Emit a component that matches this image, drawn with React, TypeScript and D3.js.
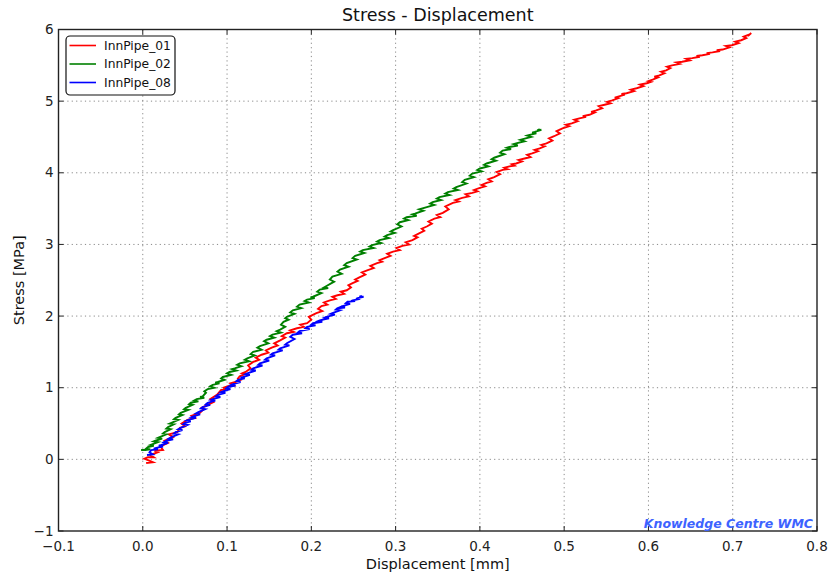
import React from "react";
import * as d3 from "d3";

// Measured stress–displacement records, [displacement mm, stress MPa]
const innPipe01: [number, number][] = [
  [0.004,-0.05],[0.012,-0.04],[0.002,0.01],[0.006,0.03],[0.013,0.03],[0.009,0.06],[0.018,0.10],[0.014,0.12],[0.024,0.13],[0.021,0.18],
  [0.030,0.23],[0.026,0.26],[0.036,0.31],[0.031,0.35],[0.041,0.38],[0.044,0.44],[0.050,0.46],[0.046,0.50],[0.053,0.55],[0.062,0.58],
  [0.058,0.61],[0.068,0.65],[0.072,0.70],[0.070,0.72],[0.077,0.76],[0.084,0.80],[0.080,0.84],[0.088,0.90],[0.093,0.97],[0.098,0.97],
  [0.096,1.00],[0.101,1.02],[0.108,1.03],[0.104,1.06],[0.110,1.08],[0.116,1.11],[0.113,1.13],[0.115,1.16],[0.121,1.19],[0.118,1.20],
  [0.122,1.22],[0.128,1.27],[0.125,1.31],[0.131,1.36],[0.138,1.39],[0.134,1.42],[0.141,1.46],[0.149,1.49],[0.146,1.52],[0.153,1.56],
  [0.160,1.59],[0.156,1.62],[0.163,1.66],[0.169,1.70],[0.165,1.72],[0.171,1.76],[0.179,1.78],[0.175,1.80],[0.183,1.83],[0.191,1.85],
  [0.187,1.88],[0.195,1.90],[0.200,1.95],[0.197,1.99],[0.206,2.04],[0.213,2.07],[0.208,2.10],[0.212,2.14],[0.219,2.16],[0.215,2.19],
  [0.222,2.22],[0.229,2.24],[0.225,2.27],[0.231,2.29],[0.239,2.31],[0.235,2.34],[0.242,2.36],[0.247,2.40],[0.244,2.43],[0.249,2.46],
  [0.255,2.49],[0.252,2.51],[0.257,2.54],[0.264,2.58],[0.260,2.61],[0.267,2.64],[0.274,2.67],[0.270,2.70],[0.278,2.74],[0.284,2.76],
  [0.281,2.78],[0.287,2.81],[0.294,2.84],[0.290,2.87],[0.297,2.90],[0.305,2.92],[0.301,2.95],[0.308,2.98],[0.316,3.00],[0.312,3.03],
  [0.320,3.06],[0.326,3.10],[0.322,3.12],[0.329,3.16],[0.334,3.19],[0.331,3.22],[0.337,3.25],[0.343,3.29],[0.339,3.32],[0.346,3.36],
  [0.353,3.38],[0.349,3.41],[0.356,3.44],[0.363,3.49],[0.359,3.53],[0.368,3.58],[0.375,3.60],[0.371,3.62],[0.379,3.65],[0.387,3.67],
  [0.383,3.70],[0.391,3.72],[0.397,3.74],[0.393,3.76],[0.400,3.79],[0.406,3.81],[0.402,3.83],[0.408,3.86],[0.414,3.88],[0.410,3.91],
  [0.417,3.94],[0.424,3.98],[0.420,4.01],[0.427,4.04],[0.433,4.05],[0.429,4.07],[0.435,4.09],[0.441,4.10],[0.438,4.12],[0.443,4.13],
  [0.450,4.16],[0.446,4.18],[0.453,4.20],[0.460,4.22],[0.456,4.25],[0.462,4.27],[0.469,4.30],[0.465,4.32],[0.471,4.34],[0.477,4.37],
  [0.473,4.39],[0.479,4.41],[0.486,4.45],[0.482,4.48],[0.488,4.51],[0.495,4.55],[0.491,4.58],[0.498,4.62],[0.506,4.65],[0.502,4.67],
  [0.509,4.69],[0.516,4.72],[0.512,4.74],[0.518,4.76],[0.526,4.78],[0.522,4.79],[0.530,4.81],[0.536,4.84],[0.532,4.85],[0.538,4.87],
  [0.545,4.90],[0.541,4.93],[0.548,4.95],[0.555,4.97],[0.551,4.99],[0.557,5.01],[0.564,5.04],[0.560,5.05],[0.566,5.07],[0.572,5.09],
  [0.568,5.10],[0.574,5.11],[0.583,5.14],[0.579,5.16],[0.586,5.18],[0.594,5.21],[0.590,5.23],[0.598,5.25],[0.603,5.27],[0.600,5.28],
  [0.605,5.30],[0.611,5.33],[0.607,5.34],[0.613,5.36],[0.619,5.39],[0.615,5.41],[0.621,5.43],[0.626,5.46],[0.622,5.48],[0.628,5.50],
  [0.637,5.52],[0.633,5.54],[0.640,5.55],[0.649,5.57],[0.645,5.59],[0.652,5.60],[0.661,5.62],[0.657,5.63],[0.664,5.64],[0.673,5.66],
  [0.669,5.67],[0.676,5.68],[0.685,5.70],[0.681,5.71],[0.688,5.72],[0.696,5.75],[0.692,5.77],[0.699,5.78],[0.707,5.81],[0.703,5.83],
  [0.710,5.85],[0.716,5.88],[0.713,5.90],[0.720,5.93],[0.718,5.91],[0.722,5.95],
];

const innPipe02: [number, number][] = [
  [-0.002,0.13],[0.003,0.13],[0.009,0.14],[0.004,0.15],[0.006,0.17],[0.013,0.19],[0.009,0.20],[0.011,0.21],[0.018,0.24],[0.013,0.25],
  [0.015,0.26],[0.023,0.29],[0.018,0.30],[0.020,0.31],[0.028,0.35],[0.024,0.36],[0.026,0.38],[0.033,0.42],[0.028,0.43],[0.030,0.45],
  [0.037,0.49],[0.032,0.50],[0.034,0.51],[0.042,0.55],[0.037,0.56],[0.039,0.58],[0.047,0.62],[0.043,0.63],[0.045,0.65],[0.054,0.69],
  [0.049,0.70],[0.051,0.72],[0.059,0.76],[0.055,0.77],[0.057,0.79],[0.066,0.81],[0.061,0.82],[0.064,0.84],[0.073,0.86],[0.068,0.87],
  [0.071,0.88],[0.075,0.93],[0.073,0.95],[0.077,0.98],[0.085,1.00],[0.080,1.02],[0.083,1.04],[0.091,1.06],[0.086,1.07],[0.089,1.08],
  [0.097,1.11],[0.093,1.13],[0.095,1.15],[0.105,1.18],[0.100,1.20],[0.103,1.22],[0.111,1.24],[0.106,1.26],[0.109,1.27],[0.117,1.30],
  [0.112,1.32],[0.115,1.34],[0.126,1.37],[0.121,1.39],[0.124,1.41],[0.133,1.45],[0.128,1.47],[0.131,1.50],[0.141,1.53],[0.136,1.56],
  [0.139,1.58],[0.149,1.62],[0.144,1.65],[0.147,1.67],[0.156,1.70],[0.151,1.72],[0.154,1.74],[0.164,1.77],[0.159,1.79],[0.163,1.81],
  [0.169,1.85],[0.164,1.88],[0.167,1.92],[0.173,1.95],[0.169,1.97],[0.171,1.99],[0.180,2.03],[0.175,2.05],[0.178,2.08],[0.188,2.11],
  [0.183,2.13],[0.186,2.16],[0.197,2.19],[0.192,2.21],[0.195,2.23],[0.204,2.25],[0.199,2.26],[0.202,2.27],[0.212,2.32],[0.207,2.34],
  [0.210,2.37],[0.220,2.39],[0.215,2.40],[0.218,2.42],[0.227,2.48],[0.222,2.51],[0.225,2.55],[0.236,2.59],[0.231,2.62],[0.234,2.65],
  [0.244,2.69],[0.239,2.71],[0.242,2.74],[0.254,2.79],[0.249,2.81],[0.252,2.84],[0.263,2.88],[0.258,2.90],[0.261,2.92],[0.274,2.95],
  [0.269,2.97],[0.272,2.99],[0.283,3.02],[0.278,3.04],[0.281,3.06],[0.292,3.09],[0.287,3.11],[0.290,3.13],[0.299,3.16],[0.294,3.18],
  [0.297,3.20],[0.307,3.25],[0.302,3.28],[0.305,3.31],[0.315,3.34],[0.310,3.36],[0.313,3.38],[0.325,3.40],[0.320,3.42],[0.323,3.43],
  [0.333,3.47],[0.328,3.49],[0.337,3.52],[0.346,3.55],[0.341,3.57],[0.344,3.59],[0.354,3.62],[0.349,3.64],[0.352,3.66],[0.364,3.69],
  [0.359,3.71],[0.362,3.73],[0.374,3.76],[0.369,3.78],[0.372,3.80],[0.384,3.85],[0.379,3.87],[0.382,3.90],[0.393,3.94],[0.388,3.96],
  [0.391,3.99],[0.402,4.02],[0.397,4.04],[0.400,4.06],[0.410,4.09],[0.405,4.11],[0.408,4.13],[0.419,4.17],[0.414,4.19],[0.417,4.21],
  [0.429,4.26],[0.424,4.28],[0.427,4.31],[0.437,4.33],[0.432,4.35],[0.435,4.36],[0.445,4.38],[0.440,4.40],[0.443,4.41],[0.453,4.44],
  [0.448,4.46],[0.451,4.47],[0.461,4.50],[0.456,4.52],[0.459,4.53],[0.467,4.55],[0.462,4.56],[0.465,4.57],[0.473,4.60],[0.468,4.59],
  [0.471,4.61],
];

const innPipe08: [number, number][] = [
  [0.005,0.06],[0.012,0.07],[0.008,0.10],[0.010,0.13],[0.018,0.14],[0.013,0.15],[0.016,0.16],[0.024,0.18],[0.019,0.19],[0.022,0.20],
  [0.030,0.23],[0.025,0.24],[0.028,0.26],[0.036,0.28],[0.031,0.29],[0.034,0.31],[0.042,0.35],[0.037,0.36],[0.039,0.38],[0.047,0.41],
  [0.042,0.42],[0.045,0.44],[0.053,0.48],[0.048,0.49],[0.050,0.51],[0.057,0.53],[0.052,0.54],[0.054,0.55],[0.063,0.58],[0.058,0.59],
  [0.060,0.60],[0.068,0.63],[0.063,0.64],[0.066,0.66],[0.074,0.70],[0.069,0.71],[0.071,0.73],[0.080,0.76],[0.075,0.77],[0.077,0.79],
  [0.086,0.82],[0.081,0.83],[0.083,0.84],[0.092,0.87],[0.087,0.88],[0.089,0.90],[0.098,0.93],[0.093,0.94],[0.095,0.95],[0.104,0.98],
  [0.099,0.99],[0.101,1.01],[0.110,1.03],[0.105,1.04],[0.107,1.05],[0.116,1.08],[0.111,1.09],[0.113,1.11],[0.121,1.13],[0.116,1.14],
  [0.119,1.15],[0.127,1.18],[0.122,1.19],[0.124,1.20],[0.134,1.24],[0.129,1.25],[0.131,1.27],[0.142,1.31],[0.137,1.32],[0.139,1.34],
  [0.150,1.38],[0.145,1.39],[0.147,1.41],[0.157,1.45],[0.152,1.46],[0.154,1.48],[0.166,1.52],[0.161,1.53],[0.163,1.55],[0.174,1.59],
  [0.169,1.60],[0.171,1.62],[0.180,1.68],[0.175,1.71],[0.178,1.74],[0.189,1.76],[0.184,1.77],[0.186,1.79],[0.198,1.82],[0.193,1.83],
  [0.195,1.85],[0.205,1.87],[0.200,1.88],[0.202,1.90],[0.213,1.92],[0.208,1.93],[0.210,1.94],[0.221,1.97],[0.216,1.98],[0.218,1.99],
  [0.228,2.02],[0.223,2.03],[0.225,2.04],[0.234,2.08],[0.229,2.09],[0.231,2.11],[0.240,2.12],[0.235,2.13],[0.237,2.14],[0.246,2.17],
  [0.241,2.18],[0.243,2.20],[0.252,2.21],[0.247,2.21],[0.249,2.22],[0.258,2.24],[0.253,2.24],[0.255,2.25],[0.262,2.27],[0.257,2.27],
  [0.260,2.28],
];

const seriesNames = ["InnPipe_01", "InnPipe_02", "InnPipe_08"];
const seriesColors = ["#ff0000", "#008000", "#0000ff"];
const seriesData = [innPipe01, innPipe02, innPipe08];

const xTicks = [-0.1, 0.0, 0.1, 0.2, 0.3, 0.4, 0.5, 0.6, 0.7, 0.8];
const yTicks = [-1, 0, 1, 2, 3, 4, 5, 6];

const W = 830;
const H = 576;
const margin = { left: 58.5, right: 13, top: 29.5, bottom: 45 };
const FONT = "'DejaVu Sans', sans-serif";

const fmtX = (v: number) => (v < 0 ? "\u2212" : "") + Math.abs(v).toFixed(1);
const fmtY = (v: number) => (v < 0 ? "\u2212" : "") + Math.abs(v).toString();

export default function App() {
  const x = d3.scaleLinear().domain([-0.1, 0.8]).range([margin.left, W - margin.right]);
  const y = d3.scaleLinear().domain([-1, 6]).range([H - margin.bottom, margin.top]);
  const line = d3
    .line<[number, number]>()
    .x((d) => x(d[0]))
    .y((d) => y(d[1]));

  const x0 = x.range()[0];
  const x1 = x.range()[1];
  const y0 = y.range()[0];
  const y1 = y.range()[1];
  const tickLen = 5;

  return (
    <svg
      width={W}
      height={H}
      style={{ position: "absolute", left: 0, top: 0, background: "#fff" }}
      fontFamily={FONT}
    >
      <defs>
        <clipPath id="plot-area">
          <rect x={x0} y={y1} width={x1 - x0} height={y0 - y1} />
        </clipPath>
      </defs>

      {/* grid */}
      <g stroke="#8a8a8a" strokeWidth={1} strokeDasharray="1.2,3.2">
        {xTicks.slice(1, -1).map((t) => (
          <line key={"gx" + t} x1={x(t)} x2={x(t)} y1={y1} y2={y0} />
        ))}
        {yTicks.slice(1, -1).map((t) => (
          <line key={"gy" + t} x1={x0} x2={x1} y1={y(t)} y2={y(t)} />
        ))}
      </g>

      {/* series */}
      <g clipPath="url(#plot-area)" fill="none" strokeWidth={1.9} strokeLinejoin="miter">
        {seriesData.map((s, i) => (
          <path key={seriesNames[i]} d={line(s) ?? ""} stroke={seriesColors[i]} />
        ))}
      </g>

      {/* inward ticks on all four sides */}
      <g stroke="#222" strokeWidth={1}>
        {xTicks.map((t) => (
          <g key={"tx" + t}>
            <line x1={x(t)} x2={x(t)} y1={y0} y2={y0 - tickLen} />
            <line x1={x(t)} x2={x(t)} y1={y1} y2={y1 + tickLen} />
          </g>
        ))}
        {yTicks.map((t) => (
          <g key={"ty" + t}>
            <line x1={x0} x2={x0 + tickLen} y1={y(t)} y2={y(t)} />
            <line x1={x1} x2={x1 - tickLen} y1={y(t)} y2={y(t)} />
          </g>
        ))}
      </g>

      {/* frame */}
      <rect x={x0} y={y1} width={x1 - x0} height={y0 - y1} fill="none" stroke="#222" strokeWidth={1.4} />

      {/* tick labels */}
      <g fontSize={13.5} fill="#222">
        {xTicks.map((t) => (
          <text key={"lx" + t} x={x(t)} y={y0 + 20} textAnchor="middle">
            {fmtX(t)}
          </text>
        ))}
        {yTicks.map((t) => (
          <text key={"ly" + t} x={x0 - 5} y={y(t) + 4.5} textAnchor="end">
            {fmtY(t)}
          </text>
        ))}
      </g>

      {/* title and axis labels */}
      <text x={(x0 + x1) / 2} y={21} textAnchor="middle" fontSize={17.5} fill="#111">
        Stress - Displacement
      </text>
      <text x={(x0 + x1) / 2} y={569} textAnchor="middle" fontSize={14.5} fill="#111">
        Displacement [mm]
      </text>
      <text
        transform={`translate(24, ${(y0 + y1) / 2}) rotate(-90)`}
        textAnchor="middle"
        fontSize={14.5}
        fill="#111"
      >
        Stress [MPa]
      </text>

      {/* legend */}
      <g>
        <rect x={66} y={36} width={109} height={59} rx={4} fill="#fff" stroke="#111" strokeWidth={1.2} />
        {seriesNames.map((name, i) => (
          <g key={"lg" + name} transform={`translate(0, ${45.5 + i * 18.5})`}>
            <line x1={69.5} x2={96} y1={0} y2={0} stroke={seriesColors[i]} strokeWidth={1.6} />
            <text x={104} y={4.3} fontSize={12.3} fill="#111">
              {name}
            </text>
          </g>
        ))}
      </g>

      {/* watermark */}
      <text
        x={813}
        y={528}
        textAnchor="end"
        fontSize={12.5}
        fontWeight="bold"
        fontStyle="italic"
        fill="#3d63ff"
      >
        Knowledge Centre WMC
      </text>
    </svg>
  );
}
